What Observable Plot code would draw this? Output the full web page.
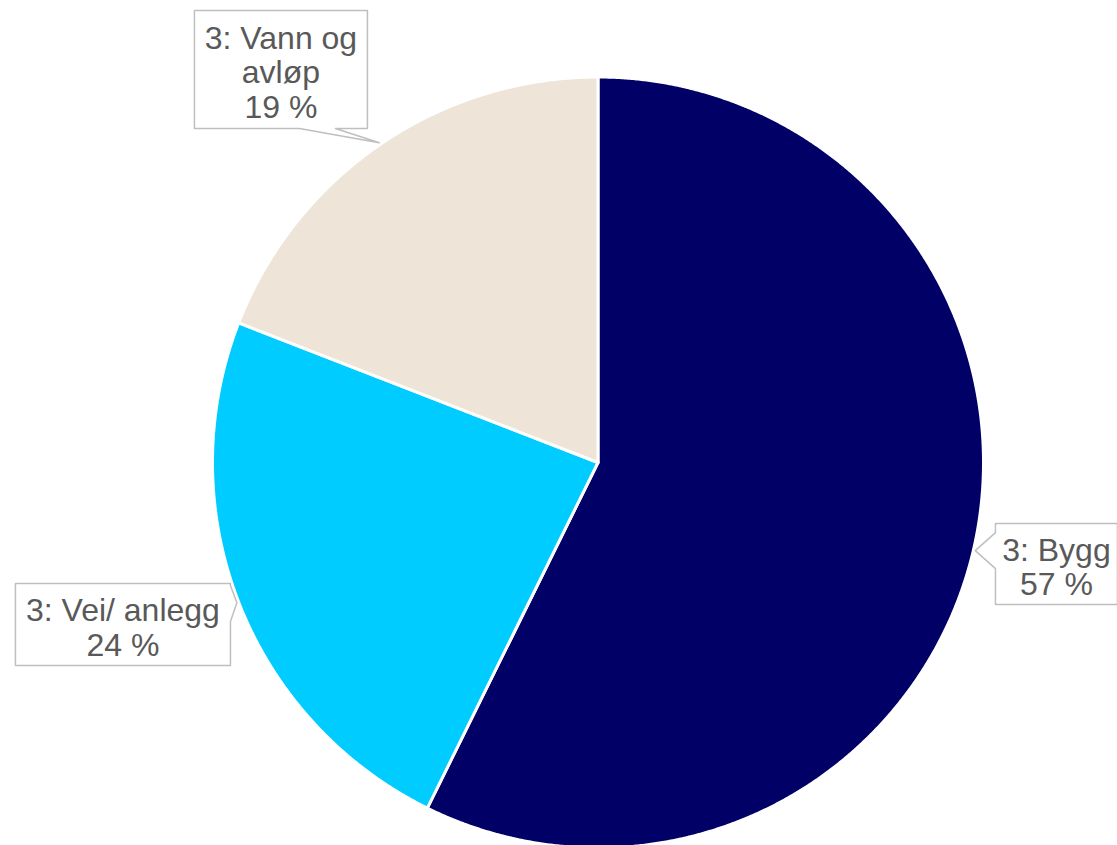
<!DOCTYPE html>
<html><head><meta charset="utf-8">
<script src="https://cdn.jsdelivr.net/npm/d3@7"></script>
<script src="https://cdn.jsdelivr.net/npm/@observablehq/plot@0.6"></script>
<style>html,body{margin:0;padding:0;background:#fff;overflow:hidden}</style>
</head><body><div id="chart"></div>
<script>
// ---- data ----
const categories = ["3: Bygg", "3: Vei/ anlegg", "3: Vann og avløp"];
const shares = [57.3, 23.6, 19.1];
const labelNames = ["3: Bygg", "3: Vei/ anlegg", "3: Vann og\navløp"];
const sliceColors = ["#000066", "#00CCFF", "#EEE4D8"];

// ---- layout ----
const W = 1117, H = 845;
const cx = 597.5, cy = 462, R = 385.5;              // pie centre / radius in px
const labelRadius = [1.218, 1.302, 1.310];          // callout centre distance (pie radii)
const labelNudge = [-0.66, 2.41, -4.51];            // callout angle nudge (deg)
const boxW = [122, 215, 173], boxH = [81, 82, 118]; // callout box size (px)

const total = d3.sum(shares);
const cum = d3.cumsum(shares);
const polar = (a, r) => [r * Math.sin(a), r * Math.cos(a)];

// slice polygons
const slicePts = [];
categories.forEach((name, i) => {
  const a0 = (i === 0 ? 0 : cum[i - 1]) / total * 2 * Math.PI;
  const a1 = cum[i] / total * 2 * Math.PI;
  const n = Math.ceil((a1 - a0) / (Math.PI / 720));
  slicePts.push({name, x: 0, y: 0});
  for (let k = 0; k <= n; k++) {
    const [x, y] = polar(a0 + (a1 - a0) * k / n, 1);
    slicePts.push({name, x, y});
  }
});

// callouts
const labels = [];
const calloutPts = [];
categories.forEach((name, i) => {
  const a0 = (i === 0 ? 0 : cum[i - 1]) / total * 2 * Math.PI;
  const a1 = cum[i] / total * 2 * Math.PI;
  const mid = (a0 + a1) / 2;
  const [bx, by] = polar(mid + labelNudge[i] * Math.PI / 180, labelRadius[i]);
  const [tx, ty] = polar(mid, 1.005);
  labels.push({name, bx, by, text: labelNames[i] + "\n" + Math.round(shares[i] / total * 100) + " %"});
  const hw = boxW[i] / 2, hh = boxH[i] / 2;
  const dx = (tx - bx) * R, dy = -(ty - by) * R;
  const p = 18;
  const clamp = (v, lo, hi) => Math.max(lo, Math.min(hi, v));
  let pts;
  if (Math.abs(dy) / hh > Math.abs(dx) / hw) {
    const c = clamp(dx, -hw + 50, hw - 50);
    if (dy > 0) pts = [[-hw,-hh],[hw,-hh],[hw,hh],[c+p,hh],[dx,dy],[c-p,hh],[-hw,hh]];
    else pts = [[-hw,-hh],[c-p,-hh],[dx,dy],[c+p,-hh],[hw,-hh],[hw,hh],[-hw,hh]];
  } else {
    const c = clamp(dy, -hh + 20, hh - 20);
    if (dx > 0) pts = [[-hw,-hh],[hw,-hh],[hw,c-p],[dx,dy],[hw,c+p],[hw,hh],[-hw,hh]];
    else pts = [[-hw,-hh],[hw,-hh],[hw,hh],[-hw,hh],[-hw,c+p],[dx,dy],[-hw,c-p]];
  }
  pts.forEach(([px, py]) => calloutPts.push({name, x: bx + px / R, y: by - py / R}));
});

const chart = Plot.plot({
  width: W, height: H,
  margin: 0,
  style: {background: "#fff"},
  x: {domain: [-cx / R, (W - cx) / R], axis: null},
  y: {domain: [-(H - cy) / R, cy / R], axis: null},
  color: {domain: categories, range: sliceColors},
  marks: [
    Plot.line(slicePts, {x: "x", y: "y", z: "name", fill: "name", stroke: "white", strokeWidth: 3, strokeLinejoin: "round", curve: "linear-closed"}),
    Plot.line(calloutPts, {x: "x", y: "y", z: "name", fill: "white", stroke: "#BFBFBF", strokeWidth: 1.5, curve: "linear-closed"}),
    Plot.text(labels, {x: "bx", y: "by", text: "text", dy: 3, fill: "#595959", fontSize: 32, lineHeight: 1.08, fontFamily: "'Liberation Sans', Arial, sans-serif"})
  ]
});
document.getElementById("chart").appendChild(chart);
</script>
</body></html>
